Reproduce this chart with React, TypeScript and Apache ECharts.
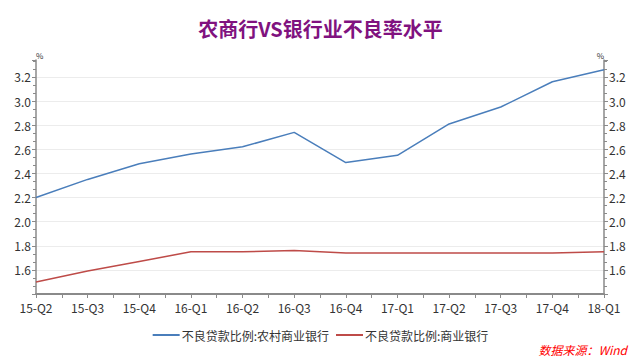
import React, { useEffect, useRef } from "react";
import * as echarts from "echarts";

const categories = ["15-Q2", "15-Q3", "15-Q4", "16-Q1", "16-Q2", "16-Q3", "16-Q4", "17-Q1", "17-Q2", "17-Q3", "17-Q4", "18-Q1"];
const ruralBanks = [2.2, 2.35, 2.48, 2.56, 2.62, 2.74, 2.49, 2.55, 2.81, 2.95, 3.16, 3.26];
const commercialBanks = [1.5, 1.59, 1.67, 1.75, 1.75, 1.76, 1.74, 1.74, 1.74, 1.74, 1.74, 1.75];
const seriesNames = ["不良贷款比例:农村商业银行", "不良贷款比例:商业银行"];
const titleText = "农商行VS银行业不良率水平";
const sourceText = "数据来源：Wind";

const FONT = "'Noto Sans CJK SC', 'Noto Sans', sans-serif";

export default function App() {
  const ref = useRef<HTMLDivElement>(null);
  useEffect(() => {
    if (!ref.current) return;
    const chart = echarts.init(ref.current, null, { renderer: "svg" });
    const yAxisBase = (pos: "left" | "right") => ({
      type: "value",
      position: pos,
      min: 1.4,
      max: 3.34,
      interval: 0.2,
      name: "%",
      nameLocation: "end",
      nameGap: 1,
      nameTextStyle: { fontSize: 8, color: "#333", fontFamily: FONT, align: pos === "left" ? "left" : "right", padding: pos === "left" ? [0, 0, 0, 0] : [0, 0, 0, 0] },
      axisLine: { show: true, lineStyle: { color: "#8a8a8a", width: 1.5 } },
      axisTick: { show: true, length: 4, lineStyle: { color: "#8a8a8a" } },
      minorTick: { show: true, splitNumber: 3, length: 3, lineStyle: { color: "#8a8a8a" } },
      axisLabel: {
        margin: 5,
        fontSize: 12,
        color: "#333",
        fontFamily: FONT,
        showMinLabel: false,
        showMaxLabel: false,
        formatter: (v: number) => v.toFixed(1),
      },
      splitLine: pos === "left" ? { show: true, showMinLine: false, showMaxLine: false, lineStyle: { color: "#ececec", width: 1 } } : { show: false },
    });
    chart.setOption({
      animation: false,
      backgroundColor: "#fff",
      title: {
        text: titleText,
        left: "center",
        top: 13,
        textStyle: { fontSize: 20, fontWeight: "bold", color: "#80127F", fontFamily: FONT },
      },
      legend: {
        data: seriesNames,
        top: 324,
        left: "center",
        icon: "rect",
        itemWidth: 27,
        itemHeight: 2,
        itemGap: 7,
        textStyle: { fontSize: 12, color: "#333", fontFamily: FONT, padding: [0, 0, 0, -3] },
      },
      grid: { left: 36, right: 37, top: 60, bottom: 66, containLabel: false },
      xAxis: [
        {
          type: "category",
          data: categories,
          boundaryGap: false,
          position: "bottom",
          axisLine: { show: true, lineStyle: { color: "#8a8a8a", width: 2 } },
          axisTick: { show: false },
          axisLabel: { margin: 7, fontSize: 12, color: "#333", fontFamily: FONT, interval: 0 },
          splitLine: { show: false },
        },
        {
          type: "value",
          position: "bottom",
          min: 0,
          max: categories.length - 1,
          interval: 0.5,
          axisLine: { show: false },
          axisTick: { show: true, length: 4, lineStyle: { color: "#8a8a8a" } },
          axisLabel: { show: false },
          splitLine: { show: false },
        },
      ],
      yAxis: [yAxisBase("left"), yAxisBase("right")],
      series: [
        {
          name: seriesNames[0],
          type: "line",
          data: ruralBanks,
          xAxisIndex: 0,
          yAxisIndex: 0,
          symbol: "none",
          lineStyle: { color: "#4A7EBB", width: 1.5 },
          itemStyle: { color: "#4A7EBB" },
        },
        {
          name: seriesNames[1],
          type: "line",
          data: commercialBanks,
          xAxisIndex: 0,
          yAxisIndex: 0,
          symbol: "none",
          lineStyle: { color: "#BE4B48", width: 1.5 },
          itemStyle: { color: "#BE4B48" },
        },
      ],
      graphic: [
        {
          type: "text",
          right: 14,
          top: 343,
          style: { text: sourceText, fontSize: 12, fontStyle: "italic", fill: "#FF0000", fontFamily: FONT },
        },
      ],
    });
    return () => chart.dispose();
  }, []);
  return <div ref={ref} style={{ width: 641, height: 360, position: "absolute", left: 0, top: 0 }} />;
}
